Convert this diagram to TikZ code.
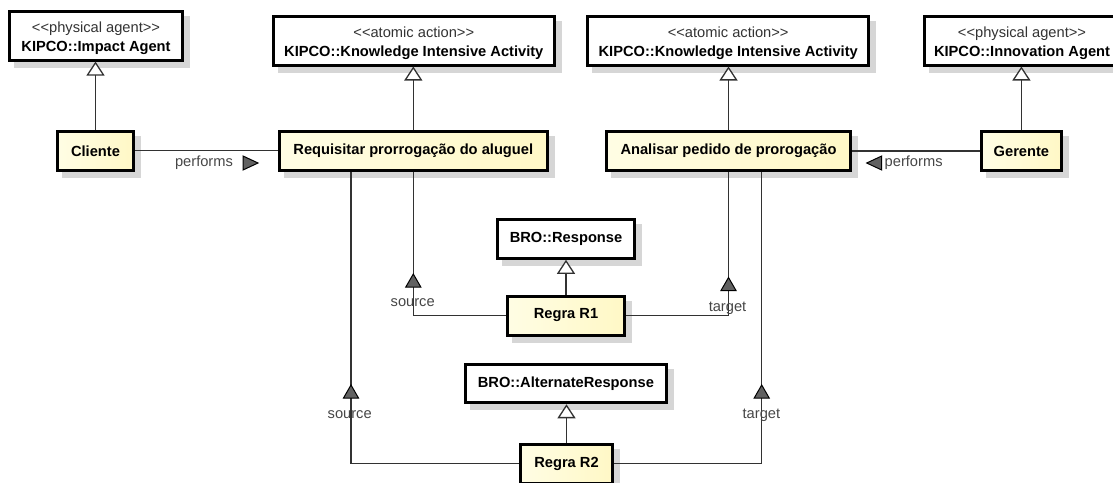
\documentclass[tikz,border=0pt]{standalone}
\usepackage{fontspec}
\setmainfont{Liberation Sans}
\usetikzlibrary{arrows.meta}

\definecolor{elemleft}{RGB}{255,253,228}
\definecolor{elemright}{RGB}{255,248,198}
\definecolor{shadowgray}{RGB}{214,214,214}
\definecolor{linegray}{RGB}{50,50,50}
\definecolor{labelgray}{RGB}{70,70,70}

\pgfdeclarelayer{shadowlayer}
\pgfsetlayers{shadowlayer,main}

% stereotype line, kerned so the angle brackets stay plain characters
\newcommand{\stereo}[1]{{\mdseries\color{black!80}<\kern0pt<#1>\kern0pt>}}
% stereotype above the classifier name; the strut lowers the block a little
\newcommand{\twoline}[2]{\rule{0pt}{15.6pt}\stereo{#1}\\#2}

\begin{document}
\begin{tikzpicture}[x=1pt,y=-1pt,
  font=\fontsize{14.67}{19}\selectfont,
  classbox/.style={draw=black,line width=3pt,fill=white,inner sep=0pt,align=center,
    font=\fontsize{14.67}{19}\selectfont\bfseries},
  elembox/.style={classbox,left color=elemleft,right color=elemright},
  gen/.style={draw=linegray,line width=1.3pt,
    -{Triangle[width=18pt,length=14pt,fill=white]}},
  assoc/.style={draw=linegray,line width=1.3pt},
  dirtri/.style={draw=black,line width=1pt,fill=black!62,line join=miter},
  lbl/.style={text=labelgray,inner sep=0pt},
  boxshadow/.style={fill=shadowgray}
]
\useasboundingbox (0,0) rectangle (1113,482);

% ---- classifiers (top row) ----
\node[classbox,minimum width=173.4pt,minimum height=48.3pt] (ia) at (96,35.9)
  {\twoline{physical agent}{KIPCO::Impact Agent}};
\node[classbox,minimum width=281pt,minimum height=49pt] (kia1) at (413.8,40.5)
  {\twoline{atomic action}{KIPCO::Knowledge Intensive Activity}};
\node[classbox,minimum width=281.4pt,minimum height=49pt] (kia2) at (728.2,40.5)
  {\twoline{atomic action}{KIPCO::Knowledge Intensive Activity}};
\node[classbox,minimum width=196pt,minimum height=49pt] (ina) at (1022,40.5)
  {\twoline{physical agent}{KIPCO::Innovation Agent}};

% ---- elements (second row) ----
\node[elembox,minimum width=75.6pt,minimum height=39pt] (cli) at (95.5,150.8) {Cliente};
\node[elembox,minimum width=268pt,minimum height=38.5pt] (req) at (413.3,151) {Requisitar prorrogação do aluguel};
\node[elembox,minimum width=243.8pt,minimum height=38.5pt] (ana) at (728.5,151) {Analisar pedido de prorogação};
\node[elembox,minimum width=79.3pt,minimum height=38.5pt] (ger) at (1021.4,151) {Gerente};

% ---- rules ----
\node[classbox,minimum width=136.6pt,minimum height=39pt] (resp) at (566,238.8) {BRO::Response};
\node[elembox,minimum width=116.6pt,minimum height=39pt] (r1) at (566,315.5) {Regra R1};
\node[classbox,minimum width=201.7pt,minimum height=38.7pt] (alt) at (565.9,383.4) {BRO::AlternateResponse};
\node[elembox,minimum width=91.6pt,minimum height=39pt] (r2) at (566.5,463.5) {Regra R2};

% ---- drop shadows behind every box ----
\begin{pgfonlayer}{shadowlayer}
  \foreach \b in {ia,kia1,kia2,ina,cli,req,ana,ger,resp,r1,alt,r2}
    \fill[boxshadow] ([shift={(6,6)}]\b.south west) rectangle ([shift={(6,6)}]\b.north east);
\end{pgfonlayer}

% ---- generalizations ----
\draw[gen] (cli.north) -- (cli.north |- ia.south);
\draw[gen] (req.north) -- (req.north |- kia1.south);
\draw[gen] (ana.north) -- (ana.north |- kia2.south);
\draw[gen] (ger.north) -- (ger.north |- ina.south);
\draw[gen] (r1.north) -- (r1.north |- resp.south);
\draw[gen] (r2.north) -- (r2.north |- alt.south);

% ---- performs associations ----
\draw[assoc] (cli.east) -- (cli.east -| req.west);
\draw[assoc] (ger.west) -- (ger.west -| ana.east);
\node[lbl] (perf1) at (204,163) {performs};
\coordinate (perf1tip) at (258,163);
\draw[dirtri] (perf1tip) -- ++(-15,-7) -- ++(0,14) -- cycle;
\node[lbl,anchor=west] (perf2) at (884.5,163) {performs};
\coordinate (perf2tip) at (866.7,163);
\draw[dirtri] (perf2tip) -- ++(15,-7) -- ++(0,14) -- cycle;

% ---- source / target links of Regra R1 ----
\draw[assoc] (req.south) |- (r1.west);
\draw[assoc] (ana.south) |- (r1.east);
\coordinate (s1tip) at (413.3,274);
\draw[dirtri] (s1tip) -- ++(-7.5,13) -- ++(15,0) -- cycle;
\node[lbl] (s1lbl) at (412.7,303) {source};
\coordinate (t1tip) at (728.5,277.5);
\draw[dirtri] (t1tip) -- ++(-7.5,13) -- ++(15,0) -- cycle;
\node[lbl] (t1lbl) at (727.5,308) {target};

% ---- source / target links of Regra R2 ----
\draw[assoc] ([xshift=-62.3pt]req.south) |- (r2.west);
\draw[assoc] ([xshift=33.2pt]ana.south) |- (r2.east);
\coordinate (s2tip) at (351,385);
\draw[dirtri] (s2tip) -- ++(-7.5,13) -- ++(15,0) -- cycle;
\node[lbl] (s2lbl) at (349.7,415) {source};
\coordinate (t2tip) at (761.7,385);
\draw[dirtri] (t2tip) -- ++(-7.5,13) -- ++(15,0) -- cycle;
\node[lbl] (t2lbl) at (761.4,415) {target};
\end{tikzpicture}
\end{document}
